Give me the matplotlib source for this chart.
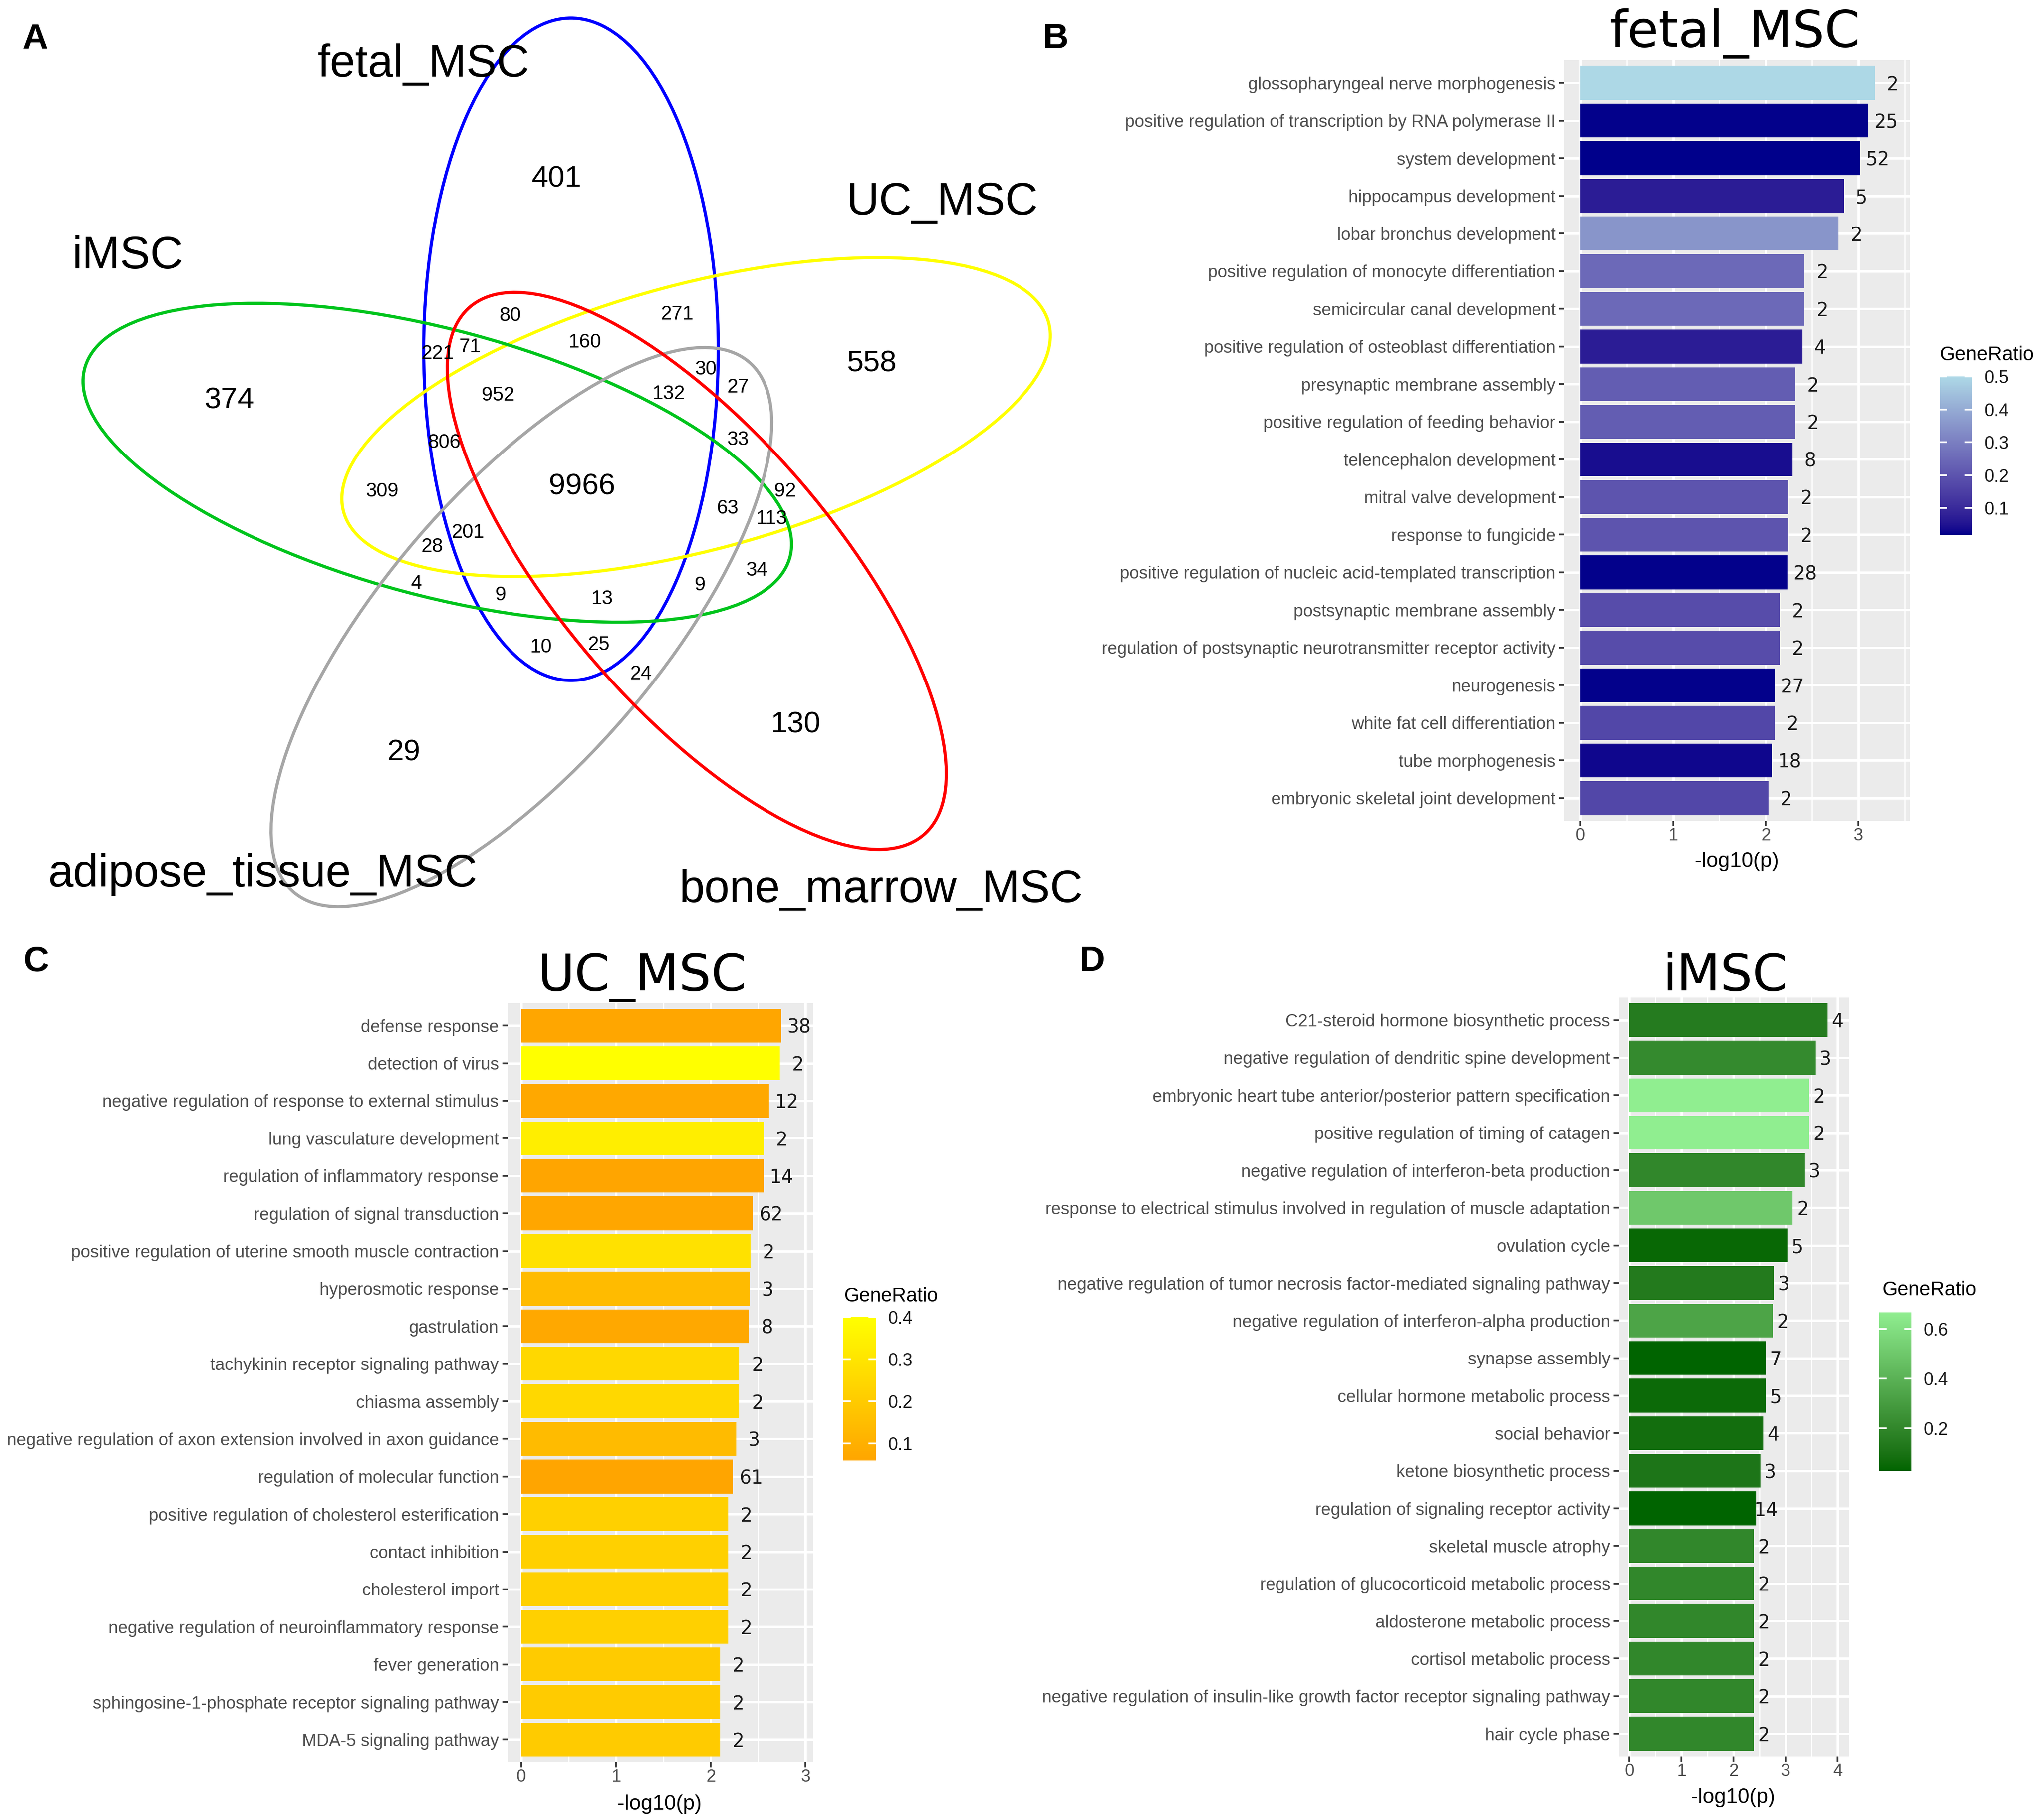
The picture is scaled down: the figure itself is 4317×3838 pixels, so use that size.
import numpy as np
import matplotlib
matplotlib.use("Agg")
import matplotlib.pyplot as plt
from matplotlib.patches import Ellipse
from matplotlib.colors import ListedColormap, Normalize
from matplotlib.cm import ScalarMappable

plt.rcParams["font.family"] = ["Liberation Sans", "DejaVu Sans"]

# ---- data -------------------------------------------------------------
venn_sets = ["fetal_MSC", "UC_MSC", "iMSC", "adipose_tissue_MSC", "bone_marrow_MSC"]
venn_big_counts = [401, 558, 374, 29, 130, 9966]
venn_small_counts = [80, 271, 160, 221, 71, 952, 132, 30, 27, 806, 33, 309, 63,
                     92, 113, 201, 28, 34, 4, 9, 13, 9, 10, 25, 24]

fetal_terms = [
    "glossopharyngeal nerve morphogenesis",
    "positive regulation of transcription by RNA polymerase II",
    "system development",
    "hippocampus development",
    "lobar bronchus development",
    "positive regulation of monocyte differentiation",
    "semicircular canal development",
    "positive regulation of osteoblast differentiation",
    "presynaptic membrane assembly",
    "positive regulation of feeding behavior",
    "telencephalon development",
    "mitral valve development",
    "response to fungicide",
    "positive regulation of nucleic acid-templated transcription",
    "postsynaptic membrane assembly",
    "regulation of postsynaptic neurotransmitter receptor activity",
    "neurogenesis",
    "white fat cell differentiation",
    "tube morphogenesis",
    "embryonic skeletal joint development",
]
fetal_logp = [3.178, 3.106, 3.02, 2.844, 2.787, 2.418, 2.418, 2.394, 2.319, 2.319,
              2.29, 2.245, 2.245, 2.233, 2.153, 2.153, 2.097, 2.097, 2.067, 2.027]
fetal_count = [2, 25, 52, 5, 2, 2, 2, 4, 2, 2, 8, 2, 2, 28, 2, 2, 27, 2, 18, 2]
fetal_ratio = [0.5, 0.02, 0.018, 0.07, 0.35, 0.25, 0.25, 0.07, 0.22, 0.22,
               0.04, 0.2, 0.2, 0.02, 0.18, 0.18, 0.02, 0.167, 0.03, 0.167]

uc_terms = [
    "defense response",
    "detection of virus",
    "negative regulation of response to external stimulus",
    "lung vasculature development",
    "regulation of inflammatory response",
    "regulation of signal transduction",
    "positive regulation of uterine smooth muscle contraction",
    "hyperosmotic response",
    "gastrulation",
    "tachykinin receptor signaling pathway",
    "chiasma assembly",
    "negative regulation of axon extension involved in axon guidance",
    "regulation of molecular function",
    "positive regulation of cholesterol esterification",
    "contact inhibition",
    "cholesterol import",
    "negative regulation of neuroinflammatory response",
    "fever generation",
    "sphingosine-1-phosphate receptor signaling pathway",
    "MDA-5 signaling pathway",
]
uc_logp = [2.743, 2.729, 2.613, 2.557, 2.557, 2.445, 2.416, 2.412, 2.40, 2.30,
           2.30, 2.268, 2.233, 2.183, 2.183, 2.183, 2.183, 2.098, 2.098, 2.098]
uc_count = [38, 2, 12, 2, 14, 62, 2, 3, 8, 2, 2, 3, 61, 2, 2, 2, 2, 2, 2, 2]
uc_ratio = [0.063, 0.4, 0.07, 0.333, 0.06, 0.065, 0.286, 0.14, 0.073, 0.25,
            0.25, 0.14, 0.06, 0.222, 0.222, 0.222, 0.222, 0.2, 0.2, 0.2]

imsc_terms = [
    "C21-steroid hormone biosynthetic process",
    "negative regulation of dendritic spine development",
    "embryonic heart tube anterior/posterior pattern specification",
    "positive regulation of timing of catagen",
    "negative regulation of interferon-beta production",
    "response to electrical stimulus involved in regulation of muscle adaptation",
    "ovulation cycle",
    "negative regulation of tumor necrosis factor-mediated signaling pathway",
    "negative regulation of interferon-alpha production",
    "synapse assembly",
    "cellular hormone metabolic process",
    "social behavior",
    "ketone biosynthetic process",
    "regulation of signaling receptor activity",
    "skeletal muscle atrophy",
    "regulation of glucocorticoid metabolic process",
    "aldosterone metabolic process",
    "cortisol metabolic process",
    "negative regulation of insulin-like growth factor receptor signaling pathway",
    "hair cycle phase",
]
imsc_logp = [3.812, 3.579, 3.45, 3.45, 3.369, 3.14, 3.039, 2.774, 2.75, 2.621,
             2.621, 2.568, 2.513, 2.436, 2.387, 2.387, 2.387, 2.387, 2.387, 2.387]
imsc_count = [4, 3, 2, 2, 3, 2, 5, 3, 2, 7, 5, 4, 3, 14, 2, 2, 2, 2, 2, 2]
imsc_ratio = [0.143, 0.214, 0.667, 0.667, 0.2, 0.5, 0.05, 0.136, 0.333, 0.03,
              0.06, 0.08, 0.115, 0.028, 0.2, 0.2, 0.2, 0.2, 0.2, 0.2]

# ---- helpers ------------------------------------------------------------
W, H = 1568.0, 1394.0  # layout grid (scaled pixels)


def box(x0, y0, x1, y1):
    return [x0 / W, 1 - y1 / H, (x1 - x0) / W, (y1 - y0) / H]


def srgb_to_lab(rgb):
    rgb = np.asarray(rgb, dtype=float)
    lin = np.where(rgb <= 0.04045, rgb / 12.92, ((rgb + 0.055) / 1.055) ** 2.4)
    m = np.array([[0.4124, 0.3576, 0.1805], [0.2126, 0.7152, 0.0722], [0.0193, 0.1192, 0.9505]])
    xyz = lin @ m.T / np.array([0.95047, 1.0, 1.08883])
    d = 6 / 29
    f = np.where(xyz > d ** 3, np.cbrt(xyz), xyz / (3 * d * d) + 4 / 29)
    return np.stack([116 * f[..., 1] - 16, 500 * (f[..., 0] - f[..., 1]), 200 * (f[..., 1] - f[..., 2])], -1)


def lab_to_srgb(lab):
    d = 6 / 29
    fy = (lab[..., 0] + 16) / 116
    fx = fy + lab[..., 1] / 500
    fz = fy - lab[..., 2] / 200
    f = np.stack([fx, fy, fz], -1)
    xyz = np.where(f > d, f ** 3, 3 * d * d * (f - 4 / 29)) * np.array([0.95047, 1.0, 1.08883])
    m = np.array([[3.2406, -1.5372, -0.4986], [-0.9689, 1.8758, 0.0415], [0.0557, -0.2040, 1.0570]])
    lin = xyz @ m.T
    rgb = np.where(lin <= 0.0031308, 12.92 * lin, 1.055 * np.clip(lin, 0, None) ** (1 / 2.4) - 0.055)
    return np.clip(rgb, 0, 1)


def lab_gradient(low, high, n=256):
    lo = srgb_to_lab(matplotlib.colors.to_rgb(low))
    hi = srgb_to_lab(matplotlib.colors.to_rgb(high))
    t = np.linspace(0, 1, n)[:, None]
    return ListedColormap(lab_to_srgb(lo + (hi - lo) * t))


fig = plt.figure(figsize=(43.17, 38.38), dpi=100)
canvas = fig.add_axes([0, 0, 1, 1])
canvas.set_xlim(0, W)
canvas.set_ylim(H, 0)
canvas.axis("off")

# ---- panel A: five-set Venn -------------------------------------------
ellipses = [  # centre, width, height, angle, colour
    ((438, 268), 508, 226, 90, "#0000FF"),
    ((534, 320), 560, 204, -15, "#FFFF00"),
    ((335.5, 355), 560, 204, 15, "#00C41C"),
    ((400, 481), 536, 210, -49.3, "#A6A6A6"),
    ((534.5, 438), 534, 210, 49.3, "#FF0000"),
]
for (cx, cy), ew, eh, ang, col in ellipses:
    canvas.add_patch(Ellipse((cx, cy), ew, eh, angle=ang, fill=False,
                             edgecolor=col, lw=4.8, zorder=2))

set_label_xy = [(325, 59), (723, 164.5), (98, 206), (201.5, 680), (676, 692)]
for name, (x, y) in zip(venn_sets, set_label_xy):
    canvas.text(x, y, name, fontsize=69, ha="center", va="baseline", zorder=3)

big_xy = [(427, 135), (668.6, 276.5), (176, 305), (310, 575), (610.2, 553.7), (446.5, 371)]
for c, (x, y) in zip(venn_big_counts, big_xy):
    canvas.text(x, y, str(c), fontsize=45.5, ha="center", va="center_baseline", zorder=3)

small_xy = [(391.5, 240.5), (519.8, 239.4), (448.9, 261), (335.9, 269.8), (360.5, 264.7),
            (382.2, 301.5), (513.1, 300.4), (541.5, 281.7), (566.1, 295.5), (340.8, 338),
            (566.1, 335.8), (293.1, 375.2), (558.3, 388.4), (602.3, 375.2), (592.2, 396.4),
            (359.1, 407.1), (331.6, 417.7), (580.6, 436), (319.4, 446.3), (384, 455.1),
            (461.9, 457.8), (537.2, 447.4), (415, 494.7), (459.6, 493.2), (491.7, 515.6)]
for c, (x, y) in zip(venn_small_counts, small_xy):
    canvas.text(x, y, str(c), fontsize=30, ha="center", va="center_baseline", zorder=3)

for letter, (x, y) in zip("ABCD", [(27, 37.3), (810, 37), (28, 745), (838, 745)]):
    canvas.text(x, y, letter, fontsize=54, fontweight="bold", ha="center", va="baseline")


# ---- bar panels ----------------------------------------------------------
def bar_panel(rect, terms, logp, counts, ratio, low, high, xlim, xticks,
              title, title_xy, xlab_xy, cbar_rect, cbar_ticks, gr_xy):
    cmap = lab_gradient(low, high)
    norm = Normalize(min(ratio), max(ratio))
    ax = fig.add_axes(box(*rect))
    ax.set_facecolor("#EBEBEB")
    y = np.arange(len(terms))
    ax.barh(y, logp, height=0.9, color=cmap(norm(np.array(ratio))), zorder=3)
    for yi, v, c in zip(y, logp, counts):
        ax.text(v + 0.19, yi, str(c), fontsize=28.5, family="DejaVu Sans",
                ha="center", va="center_baseline", color="#1A1A1A", zorder=4)
    ax.set_xlim(*xlim)
    ax.set_ylim(len(terms) - 0.4, -0.6)
    ax.set_xticks(xticks)
    ax.set_xticks(np.arange(0.5, xlim[1], 1.0), minor=True)
    ax.set_yticks(y)
    ax.set_yticklabels(terms)
    ax.grid(which="major", color="white", lw=3.6, zorder=1)
    ax.grid(which="minor", axis="x", color="white", lw=1.8, zorder=1)
    ax.set_axisbelow(True)
    for s in ax.spines.values():
        s.set_visible(False)
    ax.tick_params(which="major", length=8, width=2.6, color="#333333",
                   labelsize=26.4, labelcolor="#4D4D4D")
    ax.tick_params(axis="x", pad=2)
    ax.tick_params(axis="y", pad=5)
    ax.tick_params(which="minor", length=0)

    canvas.text(title_xy[0], title_xy[1], title, fontsize=77, family="DejaVu Sans",
                ha="center", va="baseline")
    canvas.text(xlab_xy[0], xlab_xy[1], "-log10(p)", fontsize=32, ha="center", va="center")

    cax = fig.add_axes(box(*cbar_rect))
    cb = fig.colorbar(ScalarMappable(norm=norm, cmap=cmap), cax=cax)
    cb.outline.set_visible(False)
    cb.set_ticks(cbar_ticks)
    cb.set_ticklabels([f"{t:.1f}" for t in cbar_ticks])
    cax.tick_params(length=0, pad=18, labelsize=27, labelcolor="#1A1A1A")
    tr = cax.get_yaxis_transform()
    for t in cbar_ticks:
        cax.plot([0, 0.2], [t, t], transform=tr, color="white", lw=2.6)
        cax.plot([0.8, 1], [t, t], transform=tr, color="white", lw=2.6)
    canvas.text(gr_xy[0], gr_xy[1], "GeneRatio", fontsize=30, ha="left", va="center")
    return ax


bar_panel((1200, 46.3, 1465.3, 629.7), fetal_terms, fetal_logp, fetal_count, fetal_ratio,
          "#00008B", "#ADD8E6", (-0.173, 3.557), [0, 1, 2, 3],
          "fetal_MSC", (1331, 36), (1332.4, 661),
          (1488, 288.8, 1512.8, 410.4), [0.1, 0.2, 0.3, 0.4, 0.5], (1488, 272.4))

bar_panel((389.2, 769.5, 623.8, 1351.9), uc_terms, uc_logp, uc_count, uc_ratio,
          "#FFA500", "#FFFF00", (-0.148, 3.08), [0, 1, 2, 3],
          "UC_MSC", (492.5, 760), (506, 1383.9),
          (646.8, 1010.3, 672, 1120.5), [0.1, 0.2, 0.3, 0.4], (647.7, 994.5))

bar_panel((1241.9, 765.3, 1418.4, 1347.4), imsc_terms, imsc_logp, imsc_count, imsc_ratio,
          "#006400", "#90EE90", (-0.203, 4.22), [0, 1, 2, 3, 4],
          "iMSC", (1323.5, 760), (1329.4, 1379),
          (1441.7, 1006.7, 1466.4, 1128.4), [0.2, 0.4, 0.6], (1444, 989.8))

fig.savefig("out.png", dpi=100)
